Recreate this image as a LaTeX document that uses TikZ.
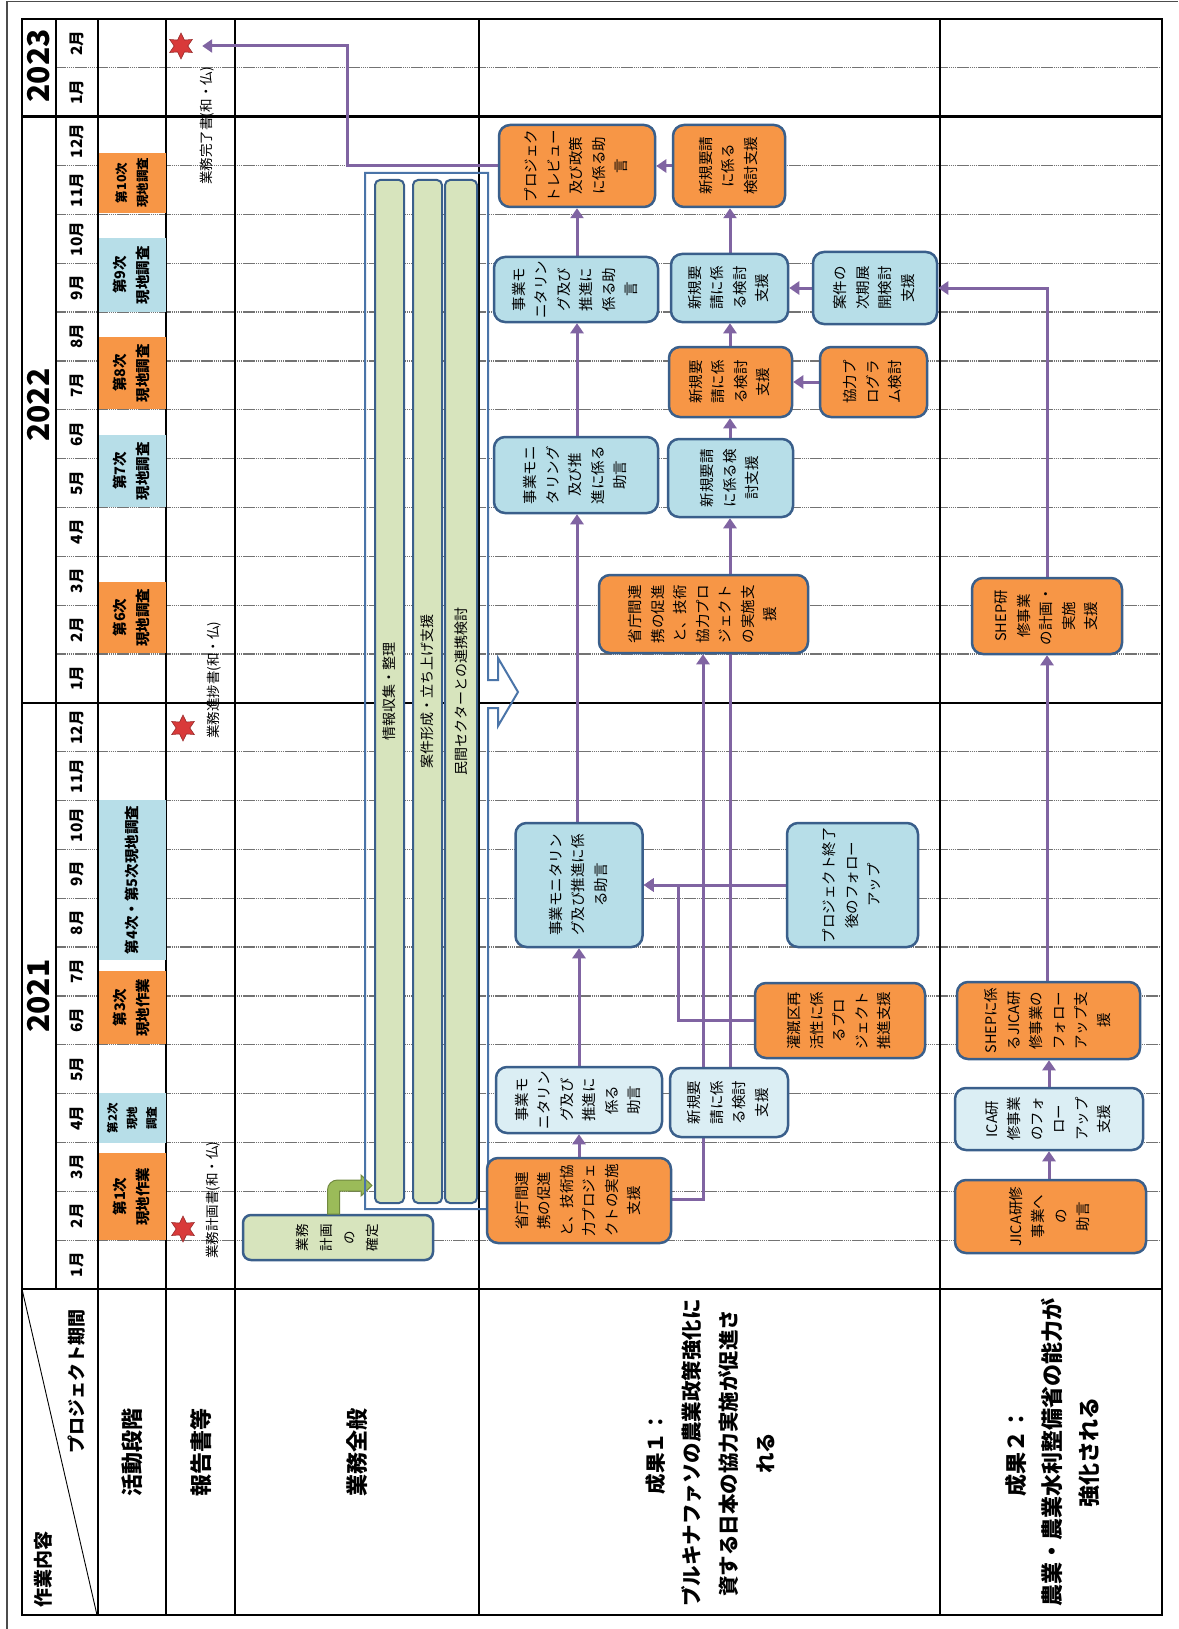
\documentclass[tikz,border=0pt]{standalone}
\usepackage{fontspec}
\setmainfont{Noto Sans CJK JP}
\usepackage{graphicx}
\usetikzlibrary{shapes.geometric,arrows.meta}
\definecolor{orn}{HTML}{F79646}
\definecolor{lbl}{HTML}{B7DEE8}
\definecolor{vlb}{HTML}{DBEEF4}
\definecolor{grn}{HTML}{D7E4BD}
\definecolor{bdr}{HTML}{3A5F8B}
\definecolor{prp}{HTML}{8064A2}
\definecolor{obl}{HTML}{4A74A8}
\definecolor{garr}{HTML}{9BBB59}
\definecolor{garrd}{HTML}{71893F}
\definecolor{strc}{HTML}{D93A3A}
\newcommand\vt[1]{\rotatebox{90}{\begin{tabular}{@{}c@{}}#1\end{tabular}}}
\pgfdeclarelayer{bglayer}
\pgfdeclarelayer{gridlayer}
\pgfdeclarelayer{connlayer}
\pgfsetlayers{bglayer,gridlayer,connlayer,main}
\tikzset{
  box/.style={draw=bdr, line width=2.5pt, rounded corners=11pt, inner sep=0pt, font=\fontsize{14.5}{22.5}\selectfont},
  ob/.style={box, fill=orn},
  lb/.style={box, fill=lbl},
  vb/.style={box, fill=vlb},
  act/.style={inner sep=0pt, font=\bfseries\fontsize{14.5}{23}\selectfont},
  bar/.style={draw=bdr, line width=2pt, fill=grn, rounded corners=5pt, inner sep=0pt, font=\fontsize{14}{20}\selectfont},
  arr/.style={draw=prp, line width=3pt, -{Triangle[length=10pt,width=13pt]}},
  ln/.style={draw=prp, line width=3pt},
  gridl/.style={draw=black!55, line width=1.2pt, dash pattern=on 1.6pt off 0.5pt},
  hdr/.style={font=\bfseries\fontsize{22}{30}\selectfont, rotate=90},
  mon/.style={font=\bfseries\fontsize{15.5}{18}\selectfont, rotate=90},
  yr/.style={font=\bfseries\fontsize{30}{32}\selectfont, rotate=90},
  rep/.style={font=\fontsize{13.5}{16}\selectfont, rotate=90},
  strn/.style={star, star points=6, star point ratio=1.9, minimum size=26pt, inner sep=0pt, fill=strc, draw=strc!70!black, line width=0.6pt},
}
\begin{document}
\begin{tikzpicture}[x=1pt,y=-1pt]
\useasboundingbox (0,0) rectangle (1178,1629);
\begin{pgfonlayer}{bglayer}
\fill[white] (0,0) rectangle (1178,1629);
\end{pgfonlayer}
\draw[gray!60!black, line width=1.2pt] (7,1629) -- (7,1.5) -- (1178,1.5);

\begin{pgfonlayer}{gridlayer}
\foreach \k in {1,...,25}{
  \pgfmathsetmacro\yy{1289-48.846*\k}
  \ifnum\k=12\relax\else\ifnum\k=24\relax\else
    \draw[gridl] (56,\yy) -- (1162,\yy);
  \fi\fi
}
\draw[line width=2.5pt] (22,702.8) -- (1162,702.8);
\draw[line width=2.5pt] (22,116.6) -- (1162,116.6);
\draw[line width=2.5pt] (22,1289) -- (1162,1289);
\draw[line width=2pt] (56,19) -- (56,1289);
\draw[line width=2pt] (98,19) -- (98,1615);
\draw[line width=2pt] (166,19) -- (166,1615);
\draw[line width=1.2pt] (235,19) -- (235,1615);
\draw[line width=1.2pt] (479,19) -- (479,1615);
\draw[line width=1.5pt] (940,19) -- (940,1615);
\draw[line width=0.9pt] (22,1289) -- (97,1615);
\draw[line width=2.5pt] (22,19) rectangle (1162,1615);
\end{pgfonlayer}

% headers
\node[font=\bfseries\fontsize{18}{20}\selectfont, rotate=90] (hp) at (77,1381) {プロジェクト期間};
\node[font=\bfseries\fontsize{19}{20}\selectfont, rotate=90] (hs) at (43,1569) {作業内容};
\node[hdr] (hc) at (132,1452) {活動段階};
\node[hdr] (hd) at (201,1452) {報告書等};
\node[hdr] (he) at (357,1452) {業務全般};
\node[font=\bfseries\fontsize{20.5}{36.7}\selectfont, rotate=90, align=center] (hf) at (710,1453) {成果１：\\ブルキナファソの農業政策強化に\\資する日本の協力実施が促進さ\\れる};
\node[font=\bfseries\fontsize{22}{36.5}\selectfont, rotate=90, align=center] (hg) at (1052,1452) {成果２：\\農業・農業水利整備省の能力が\\強化される};

% years and months
\node[yr] (y21) at (39,996) {2021};
\node[yr] (y22) at (39,405) {2022};
\node[yr] (y23) at (39,66) {2023};
\foreach \m [count=\i from 0] in {1月,2月,3月,4月,5月,6月,7月,8月,9月,10月,11月,12月,1月,2月,3月,4月,5月,6月,7月,8月,9月,10月,11月,12月,1月,2月}{
  \node[mon] (m\i) at (77,{1289-48.846*(\i+0.5)}) {\m};
}

% activity phases
\node[act, fill=orn, minimum width=67pt, minimum height=87pt] (a1) at (132.5,1196.5) {\vt{第1次\\現地作業}};
\node[act, fill=lbl, minimum width=67pt, minimum height=50pt, font=\bfseries\fontsize{11.5}{19.5}\selectfont] (a2) at (132.5,1118) {\vt{第2次\\現地\\調査}};
\node[act, fill=orn, minimum width=67pt, minimum height=73pt] (a3) at (132.5,1007.5) {\vt{第3次\\現地作業}};
\node[act, fill=lbl, minimum width=67pt, minimum height=160pt] (a4) at (132.5,880) {\vt{第4次・第5次現地調査}};
\node[act, fill=orn, minimum width=67pt, minimum height=71pt] (a5) at (132.5,617.5) {\vt{第6次\\現地調査}};
\node[act, fill=lbl, minimum width=67pt, minimum height=72pt] (a6) at (132.5,471) {\vt{第7次\\現地調査}};
\node[act, fill=orn, minimum width=67pt, minimum height=72pt] (a7) at (132.5,373) {\vt{第8次\\現地調査}};
\node[act, fill=lbl, minimum width=67pt, minimum height=74pt] (a8) at (132.5,275) {\vt{第9次\\現地調査}};
\node[act, fill=orn, minimum width=67pt, minimum height=60pt, font=\bfseries\fontsize{12.5}{21}\selectfont] (a9) at (132.5,183) {\vt{第10次\\現地調査}};

% reports
\node[strn] (s1) at (183,1229) {};
\node[strn] (s2) at (183,728) {};
\node[strn] (s3) at (181,46) {};
\node[rep] (r1) at (213,1200) {業務計画書(和・仏)};
\node[rep] (r2) at (214,680) {業務進捗書(和・仏)};
\node[rep] (r3) at (207,126) {業務完了書(和・仏)};

% general work
\node[box, fill=grn, rounded corners=8pt, minimum width=190pt, minimum height=45pt, font=\fontsize{13.5}{23.3}\selectfont] (plan) at (338,1237.5) {\vt{業務\\計画\\の\\確定}};
\filldraw[fill=garr, draw=garrd, line width=1pt] (327.5,1214) -- (327.5,1190) arc[start angle=180, end angle=270, radius=10] -- (361,1180) -- (361,1175) -- (372,1185.5) -- (361,1196) -- (361,1191) -- (339.5,1191) -- (339.5,1214) -- cycle;
\draw[obl, line width=2pt] (365,173) -- (488,173) -- (488,680) -- (498,680) -- (498,658) -- (518,692) -- (498,726) -- (498,708) -- (488,708) -- (488,1209) -- (365,1209) -- cycle;
\node[bar, minimum width=29pt, minimum height=1023pt] (b1) at (389.5,691.5) {\rotatebox{90}{情報収集・整理}};
\node[bar, minimum width=29pt, minimum height=1023pt] (b2) at (427.5,691.5) {\rotatebox{90}{案件形成・立ち上げ支援}};
\node[bar, minimum width=32pt, minimum height=1023pt] (b3) at (461,691.5) {\rotatebox{90}{民間セクターとの連携検討}};

% outcome 1
\node[ob, minimum width=184pt, minimum height=85pt] (n1) at (579,1200.5) {\vt{省庁間連\\携の促進\\と、技術協\\力プロジェ\\クトの実施\\支援}};
\node[vb, minimum width=166pt, minimum height=66pt] (n2) at (579,1100) {\vt{事業モ\\ニタリン\\グ及び\\推進に\\係る\\助言}};
\node[vb, minimum width=118pt, minimum height=69pt] (n3) at (729,1102.5) {\vt{新規要\\請に係\\る検討\\支援}};
\node[ob, minimum width=170pt, minimum height=75pt] (n4) at (840,1020.5) {\vt{灌漑区再\\活性に係\\るプロ\\ジェクト\\推進支援}};
\node[lb, minimum width=127pt, minimum height=124pt] (n5) at (579,885) {\vt{事業モニタリン\\グ及び推進に係\\る助言}};
\node[lb, minimum width=131pt, minimum height=124pt] (n6) at (852.5,885) {\vt{プロジェクト終了\\後のフォロー\\アップ}};
\node[lb, minimum width=164pt, minimum height=76pt] (n7) at (576,475) {\vt{事業モニ\\タリング\\及び推\\進に係る\\助言}};
\node[ob, minimum width=209pt, minimum height=78pt] (n12) at (703.5,614) {\vt{省庁間連\\携の促進\\と、技術\\協力プロ\\ジェクト\\の実施支\\援}};
\node[lb, minimum width=125pt, minimum height=78pt] (n13) at (730.5,478) {\vt{新規要請\\に係る検\\討支援}};
\node[lb, minimum width=164pt, minimum height=65pt] (n8) at (576,289.5) {\vt{事業モ\\ニタリン\\グ及び\\推進に\\係る助\\言}};
\node[ob, minimum width=156pt, minimum height=82pt] (n9) at (577,166) {\vt{プロジェク\\トレビュー\\及び政策\\に係る助\\言}};
\node[ob, minimum width=123pt, minimum height=70pt] (n10) at (730.5,382) {\vt{新規要\\請に係\\る検討\\支援}};
\node[lb, minimum width=117pt, minimum height=68pt] (n11) at (729.5,288) {\vt{新規要\\請に係\\る検討\\支援}};
\node[ob, minimum width=112pt, minimum height=82pt] (n14) at (729,166) {\vt{新規要請\\に係る\\検討支援}};
\node[ob, minimum width=107pt, minimum height=70pt] (n15) at (873.5,382) {\vt{協力プ\\ログラ\\ム検討}};
\node[lb, minimum width=124pt, minimum height=72pt] (n16) at (875,288) {\vt{案件の\\次期展\\開検討\\支援}};

% outcome 2
\node[ob, minimum width=191pt, minimum height=73pt] (n17) at (1050.5,1216.5) {\vt{JICA研修\\事業へ\\の\\助言}};
\node[vb, minimum width=188pt, minimum height=62pt] (n18) at (1049,1119) {\vt{ICA研\\修事業\\のフォ\\ロー\\アップ\\支援}};
\node[ob, minimum width=183pt, minimum height=77pt] (n19) at (1048.5,1020.5) {\vt{SHEPに係\\るJICA研\\修事業の\\フォロー\\アップ支\\援}};
\node[ob, minimum width=150pt, minimum height=76pt] (n20) at (1047,616) {\vt{SHEP研\\修事業\\の計画・\\実施\\支援}};

\begin{pgfonlayer}{connlayer}
\draw[arr] (n1.north -| 579,0) -- (n2.south -| 579,0);
\draw[arr] (n2.north -| 579,0) -- (n5.south -| 579,0);
\draw[arr] (n5.north -| 577,0) -- (n7.south -| 577,0);
\draw[arr] (n7.north -| 577,0) -- (n8.south -| 577,0);
\draw[arr] (n8.north -| 577,0) -- (n9.south -| 577,0);
\draw[arr] (n1.east |- 0,1199) -| (n12.south -| 703,0);
\draw[ln] (n3.north -| 730,0) -- (n12.south -| 730,0);
\draw[arr] (n12.north -| 730,0) -- (n13.south -| 730,0);
\draw[arr] (n13.north -| 730,0) -- (n10.south -| 730,0);
\draw[arr] (n10.north -| 730,0) -- (n11.south -| 730,0);
\draw[arr] (n11.north -| 730,0) -- (n14.south -| 730,0);
\draw[arr] (n4.west |- 0,1020) -- (678,1020) -- (678,885) -- (n5.east);
\draw[arr] (n6.west) -- (n5.east);
\draw[arr] (n14.west) -- (n9.east);
\draw[arr] (n15.west) -- (n10.east);
\draw[arr] (n16.west) -- (n11.east);
\draw[arr] (n20.north) -- (1047,288) -- (n16.east);
\draw[arr] (n17.north -| 1049,0) -- (n18.south -| 1049,0);
\draw[arr] (n18.north -| 1049,0) -- (n19.south -| 1049,0);
\draw[arr] (n19.north -| 1047,0) -- (n20.south -| 1047,0);
\draw[arr, shorten >=14pt] (n9.west) -- (347,166) -- (347,46) -- (s3);
\end{pgfonlayer}
\end{tikzpicture}
\end{document}
